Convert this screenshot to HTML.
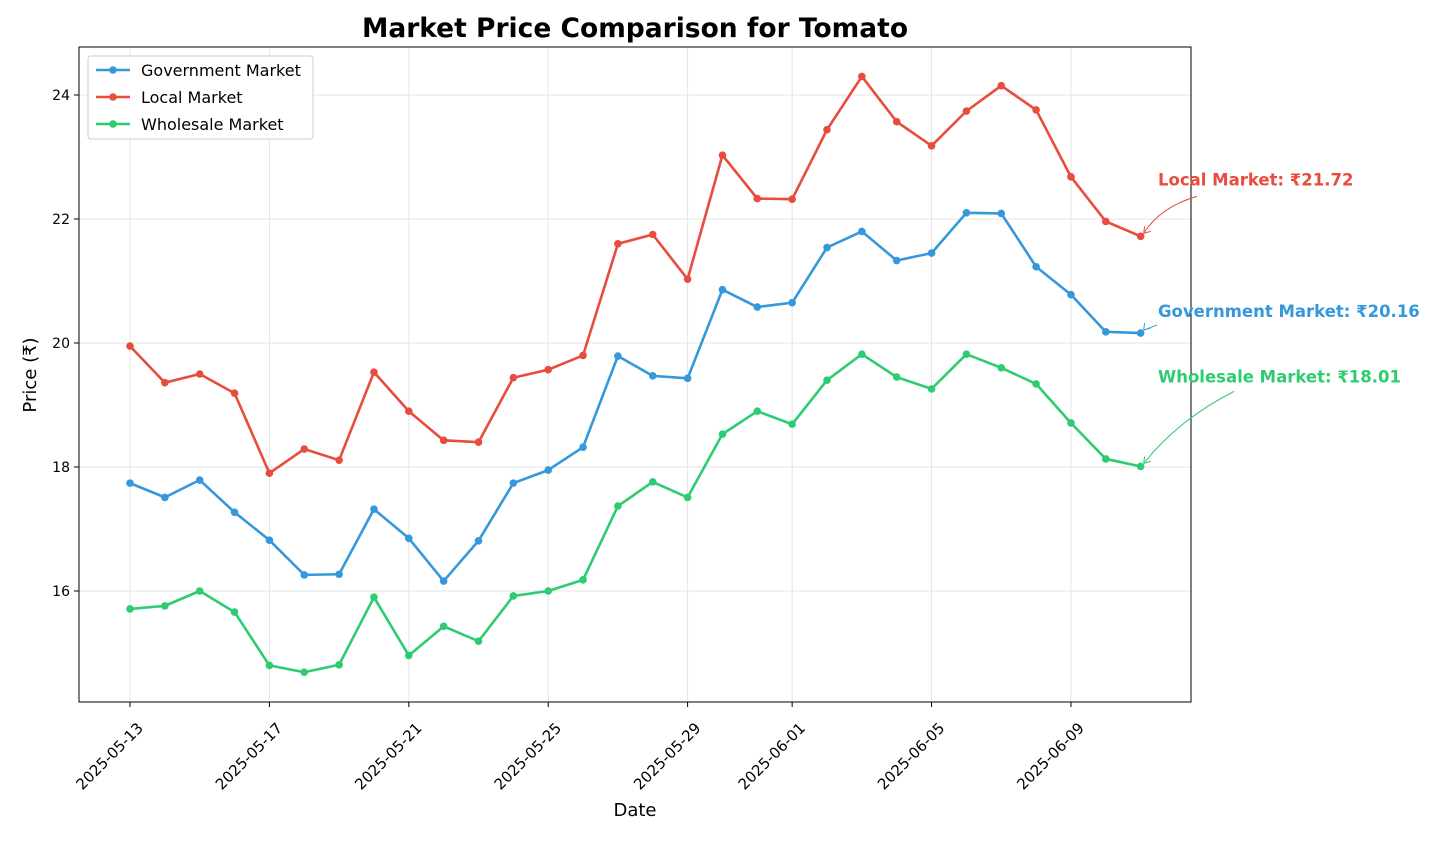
<!DOCTYPE html>
<html><head><meta charset="utf-8"><style>
body{margin:0;background:#fff;font-family:"Liberation Sans","DejaVu Sans",sans-serif;}
svg text{font-family:"DejaVu Sans","Liberation Sans",sans-serif;}
</style></head><body>
<svg id="chart" width="1440" height="840" xmlns="http://www.w3.org/2000/svg">
<text x="635" y="37" text-anchor="middle" font-size="26.5" font-weight="bold" fill="#000">Market Price Comparison for Tomato</text>
<g id="grid"></g><g id="series"></g>
<rect x="79" y="47" width="1112" height="655" fill="none" stroke="#000" stroke-width="1"/>
<g id="axes"></g>
<text x="635" y="816" text-anchor="middle" font-size="18">Date</text>
<text transform="translate(36,375) rotate(-90)" text-anchor="middle" font-size="18">Price (₹)</text>
<g id="legend">
<rect x="88" y="56" width="225" height="83" fill="#fff" stroke="#ccc" rx="3"/>
</g>
<g id="ann"></g>
</svg>
<script>
const startDate = new Date(Date.UTC(2025,4,13));
const dayOffsets = Array.from({length:30},(_, i)=>i);
const govValues = [17.74,17.51,17.79,17.27,16.82,16.26,16.27,17.32,16.85,16.16,16.81,17.74,17.95,18.32,19.79,19.47,19.43,20.86,20.58,20.65,21.54,21.80,21.33,21.45,22.10,22.09,21.23,20.78,20.18,20.16];
const localValues = [19.95,19.36,19.50,19.19,17.90,18.29,18.11,19.53,18.90,18.43,18.40,19.44,19.57,19.80,21.60,21.75,21.03,23.03,22.33,22.32,23.44,24.30,23.57,23.18,23.74,24.15,23.76,22.68,21.96,21.72];
const wholesaleValues = [15.71,15.76,16.00,15.66,14.80,14.69,14.81,15.90,14.96,15.43,15.19,15.92,16.00,16.18,17.37,17.76,17.51,18.53,18.90,18.69,19.40,19.82,19.45,19.26,19.82,19.60,19.34,18.71,18.13,18.01];
const yTicks = [16,18,20,22,24];
const xTickDays = [0,4,8,12,16,19,23,27];
const xTickLabels = ["2025-05-13","2025-05-17","2025-05-21","2025-05-25","2025-05-29","2025-06-01","2025-06-05","2025-06-09"];

const NS="http://www.w3.org/2000/svg";
const X = d => 130 + d*34.85;
const Y = v => 591 - (v-16)*62;
function mk(tag, attrs, parent){const e=document.createElementNS(NS,tag);for(const k in attrs)e.setAttribute(k,attrs[k]);parent.appendChild(e);return e;}
const grid=document.getElementById('grid'), axes=document.getElementById('axes'), ser=document.getElementById('series');
yTicks.forEach(t=>{
  const g=mk('line',{x1:79,x2:1191,y1:Y(t),y2:Y(t),stroke:'#e6e6e6','stroke-width':1},grid);
  
  
  mk('line',{x1:74,x2:79,y1:Y(t),y2:Y(t),stroke:'#000'},axes);
  const tx=mk('text',{x:70,y:Y(t)+5,'text-anchor':'end','font-size':14},axes);
  tx.textContent=t;
  
  
});
xTickDays.forEach((d,i)=>{
  const g=mk('line',{x1:X(d),x2:X(d),y1:47,y2:702,stroke:'#e6e6e6','stroke-width':1},grid);
  
  
  mk('line',{x1:X(d),x2:X(d),y1:702,y2:707,stroke:'#000'},axes);
  const tx=mk('text',{transform:`translate(${X(d)+14},${729}) rotate(-45)`,'text-anchor':'end','font-size':15},axes);
  tx.textContent=xTickLabels[i];
  
  
});
const series=[
  {name:'Government Market',vals:govValues,color:'#3498db',key:'government'},
  {name:'Local Market',vals:localValues,color:'#e74c3c',key:'local'},
  {name:'Wholesale Market',vals:wholesaleValues,color:'#2ecc71',key:'wholesale'}];
series.forEach((s,si)=>{
  const pts=s.vals.map((v,i)=>X(dayOffsets[i])+','+Y(v)).join(' ');
  const pl=mk('polyline',{points:pts,fill:'none',stroke:s.color,'stroke-width':2.6,'stroke-linejoin':'round'},ser);
  
  
  s.vals.forEach((v,i)=>{
    const c=mk('circle',{cx:X(dayOffsets[i]),cy:Y(v),r:3.8,fill:s.color},ser);
    
    
  });
  const lg=document.getElementById('legend');
  const ly=70+si*27;
  const ll=mk('line',{x1:96,x2:130,y1:ly,y2:ly,stroke:s.color,'stroke-width':2.6},lg);
  
  
  mk('circle',{cx:113,cy:ly,r:3.8,fill:s.color},lg);
  const lt=mk('text',{x:141,y:ly+6,'font-size':16},lg);
  lt.textContent=s.name;
  
  
  const last=s.vals[s.vals.length-1];
  const lx=X(dayOffsets[dayOffsets.length-1]), lyv=Y(last);
  const offs={government:[1158,Y(last)-16,1157,Y(last)-8],local:[1158,Y(last)-51,1197,Y(last)-40],wholesale:[1158,Y(last)-84,1234,Y(last)-75]}[s.key];
  const ann=document.getElementById('ann');
  const t=mk('text',{x:offs[0],y:offs[1],'font-size':16.5,'font-weight':'bold',fill:s.color},ann);
  t.textContent=s.name+': ₹'+last.toFixed(2);
  
  
  const ax=lx+3, ay=lyv-3;
  const d = s.key==='government' ? `M${offs[2]},${offs[3]} L${ax},${ay}` :
    `M${offs[2]},${offs[3]} Q${(offs[2]+ax)/2-10},${(offs[3]+ay)/2-8} ${ax},${ay}`;
  const p=mk('path',{d:d,fill:'none',stroke:s.color,'stroke-width':1},ann);
  
  
  mk('path',{d:`M${ax},${ay} l1,-7 M${ax},${ay} l7,-2`,stroke:s.color,'stroke-width':1,fill:'none'},ann);
});
</script>
</body></html>
